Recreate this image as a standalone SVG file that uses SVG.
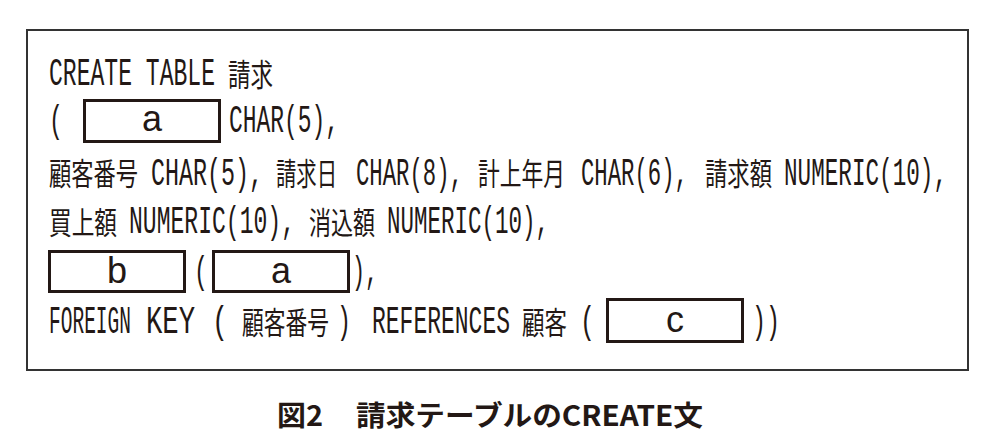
<svg xmlns="http://www.w3.org/2000/svg" width="996" height="446" viewBox="0 0 996 446">
<style>
.m{font-family:"Liberation Mono","Noto Sans CJK JP",monospace;font-size:39px;fill:#231815}
.j{font-family:"Noto Sans CJK JP",sans-serif;font-size:31px;fill:#231815}
.box{fill:#fff;stroke:#231815;stroke-width:3}
.lbl{font-family:"Liberation Sans",Arial,sans-serif;font-size:36px;fill:#231815;text-anchor:middle}
.cap{font-family:"Noto Sans CJK JP",sans-serif;font-size:28px;font-weight:bold;fill:#231815}
</style>
<rect id="frame" x="27" y="30" width="941" height="340" fill="#fff" stroke="#333" stroke-width="2"/>
<g id="line1">
<text class="m" x="49" y="85" textLength="166" lengthAdjust="spacingAndGlyphs">CREATE TABLE</text>
<text class="j" x="228" y="86" textLength="45" lengthAdjust="spacingAndGlyphs">請求</text>
</g>
<g id="line2">
<text class="m" x="49" y="132" textLength="14" lengthAdjust="spacingAndGlyphs">(</text>
<g id="box-a1"><rect class="box" x="84.5" y="100.5" width="135" height="41"/><text class="lbl" x="152" y="131">a</text></g>
<text class="m" x="229" y="132" textLength="110" lengthAdjust="spacingAndGlyphs">CHAR(5),</text>
</g>
<g id="line3">
<text class="j" x="49" y="185" textLength="89" lengthAdjust="spacingAndGlyphs">顧客番号</text>
<text class="m" x="151" y="185" textLength="112" lengthAdjust="spacingAndGlyphs">CHAR(5),</text>
<text class="j" x="276" y="185" textLength="61" lengthAdjust="spacingAndGlyphs">請求日</text>
<text class="m" x="356" y="185" textLength="107" lengthAdjust="spacingAndGlyphs">CHAR(8),</text>
<text class="j" x="478" y="185" textLength="87" lengthAdjust="spacingAndGlyphs">計上年月</text>
<text class="m" x="581" y="185" textLength="107" lengthAdjust="spacingAndGlyphs">CHAR(6),</text>
<text class="j" x="705" y="185" textLength="67" lengthAdjust="spacingAndGlyphs">請求額</text>
<text class="m" x="784" y="185" textLength="163" lengthAdjust="spacingAndGlyphs">NUMERIC(10),</text>
</g>
<g id="line4">
<text class="j" x="49" y="234" textLength="68" lengthAdjust="spacingAndGlyphs">買上額</text>
<text class="m" x="129" y="233" textLength="166" lengthAdjust="spacingAndGlyphs">NUMERIC(10),</text>
<text class="j" x="309" y="234" textLength="66" lengthAdjust="spacingAndGlyphs">消込額</text>
<text class="m" x="387" y="233" textLength="162" lengthAdjust="spacingAndGlyphs">NUMERIC(10),</text>
</g>
<g id="line5">
<g id="box-b"><rect class="box" x="49.5" y="251.5" width="135" height="40"/><text class="lbl" x="117" y="283">b</text></g>
<text class="m" x="194" y="283" textLength="14" lengthAdjust="spacingAndGlyphs">(</text>
<g id="box-a2"><rect class="box" x="213.5" y="251.5" width="135" height="40"/><text class="lbl" x="281" y="283">a</text></g>
<text class="m" x="352" y="283" textLength="26" lengthAdjust="spacingAndGlyphs">),</text>
</g>
<g id="line6">
<text class="m" x="49" y="333" textLength="82" lengthAdjust="spacingAndGlyphs">FOREIGN</text>
<text class="m" x="146" y="333" textLength="49" lengthAdjust="spacingAndGlyphs">KEY</text>
<text class="m" x="212" y="333" textLength="16" lengthAdjust="spacingAndGlyphs">(</text>
<text class="j" x="242" y="334" textLength="87" lengthAdjust="spacingAndGlyphs">顧客番号</text>
<text class="m" x="337" y="333" textLength="14" lengthAdjust="spacingAndGlyphs">)</text>
<text class="m" x="372" y="333" textLength="138" lengthAdjust="spacingAndGlyphs">REFERENCES</text>
<text class="j" x="522" y="334" textLength="45" lengthAdjust="spacingAndGlyphs">顧客</text>
<text class="m" x="580" y="333" textLength="15" lengthAdjust="spacingAndGlyphs">(</text>
<g id="box-c"><rect class="box" x="607.5" y="299.5" width="135" height="42"/><text class="lbl" x="675" y="332">c</text></g>
<text class="m" x="752" y="333" textLength="28" lengthAdjust="spacingAndGlyphs">))</text>
</g>
<g id="caption">
<text class="cap" x="277" y="426" textLength="46" lengthAdjust="spacingAndGlyphs">図2</text>
<text class="cap" x="356" y="426" textLength="347" lengthAdjust="spacingAndGlyphs">請求テーブルのCREATE文</text>
</g>
</svg>
